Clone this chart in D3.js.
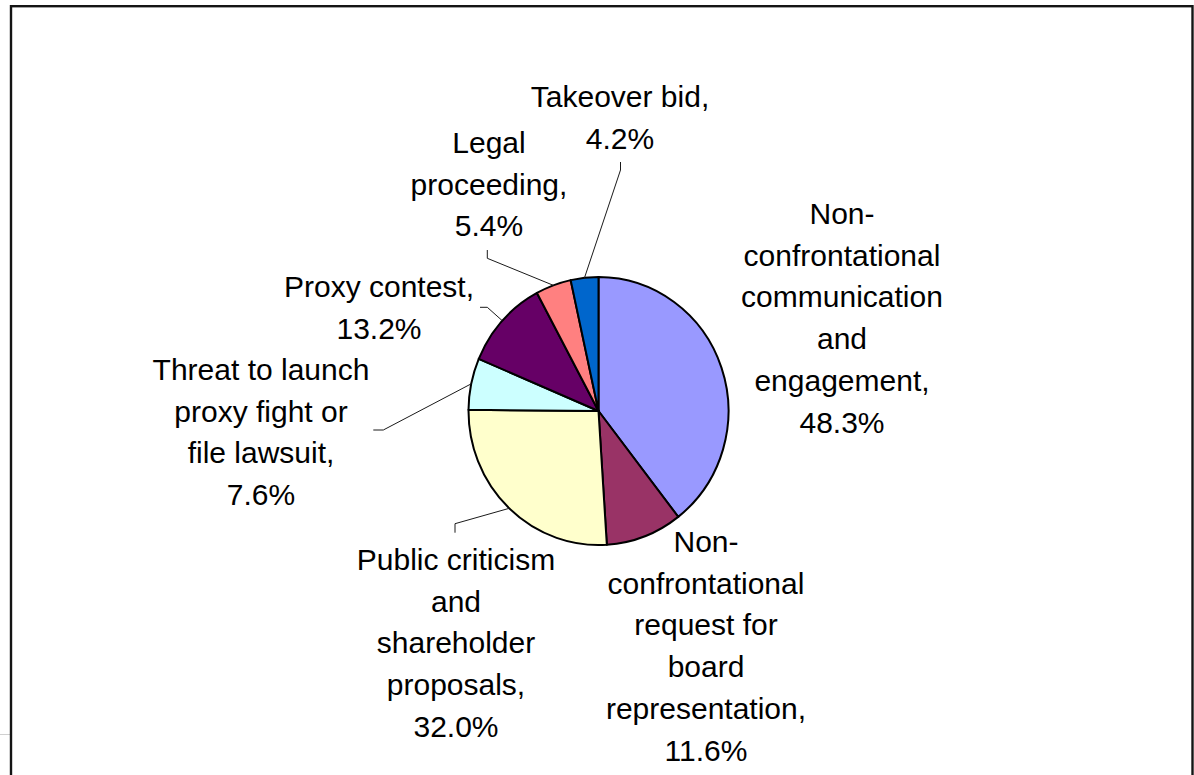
<!DOCTYPE html>
<html>
<head>
<meta charset="utf-8">
<script src="https://cdn.jsdelivr.net/npm/d3@7"></script>
<style>
  html, body { margin: 0; padding: 0; background: #ffffff; }
  svg { display: block; }
  text { font-family: "Liberation Sans", Arial, Helvetica, sans-serif; }
</style>
</head>
<body>
<svg id="chart" width="1194" height="775"></svg>
<script>
// Shareholder engagement methods, in clockwise order from 12 o'clock
const categories = [
  "Non-confrontational communication and engagement",
  "Non-confrontational request for board representation",
  "Public criticism and shareholder proposals",
  "Threat to launch proxy fight or file lawsuit",
  "Proxy contest",
  "Legal proceeding",
  "Takeover bid"
];
const values = [48.3, 11.6, 32.0, 7.6, 13.2, 5.4, 4.2];
// How each category name wraps inside its label
const labelLines = [
  ["Non-", "confrontational", "communication", "and", "engagement,"],
  ["Non-", "confrontational", "request for", "board", "representation,"],
  ["Public criticism", "and", "shareholder", "proposals,"],
  ["Threat to launch", "proxy fight or", "file lawsuit,"],
  ["Proxy contest,"],
  ["Legal", "proceeding,"],
  ["Takeover bid,"]
];
const colors = ["#9999FF", "#993366", "#FFFFCC", "#CCFFFF", "#660066", "#FF8080", "#0066CC"];

// Layout
const W = 1194, H = 775;
const cx = 598.5, cy = 411;
const radius = 134, xSquash = 0.97;
const fontSize = 30, lineHeight = 41.7;

// Label placement: text centre x, first baseline y, and leader tail/elbow (null = no leader)
const labelPlacement = [
  { x: 842, y: 224, tail: null, elbow: null },
  { x: 706, y: 552, tail: null, elbow: null },
  { x: 456, y: 570, tail: [455, 532.7], elbow: [455, 523.7] },
  { x: 261, y: 380, tail: [373.3, 430], elbow: [383.3, 430] },
  { x: 379, y: 297, tail: [480, 307.3], elbow: [487.3, 307.3] },
  { x: 489, y: 153, tail: [487.3, 250], elbow: [487.3, 258.3] },
  { x: 620, y: 107, tail: [620.5, 162], elbow: [620.5, 170] }
];

const svg = d3.select("#chart");

// Chart frame
svg.append("line")
  .attr("x1", 0).attr("x2", 10).attr("y1", 734.5).attr("y2", 734.5)
  .attr("stroke", "#d0d0d0").attr("stroke-width", 1);
svg.append("rect")
  .attr("x", 11).attr("y", 6.2)
  .attr("width", 1181.5).attr("height", 820)
  .attr("fill", "#ffffff")
  .attr("stroke", "#141414").attr("stroke-width", 2.4);

const data = categories.map((c, i) => ({ name: c, value: values[i], lines: labelLines[i], color: colors[i], place: labelPlacement[i] }));

const pie = d3.pie().sort(null).value(d => d.value);
const arcs = pie(data);
const arc = d3.arc().innerRadius(0).outerRadius(radius);

// Slices
const g = svg.append("g")
  .attr("transform", `translate(${cx},${cy}) scale(${xSquash},1)`);
g.selectAll("path.slice")
  .data(arcs)
  .join("path")
  .attr("class", "slice")
  .attr("d", arc)
  .attr("fill", d => d.data.color)
  .attr("stroke", "#000000")
  .attr("stroke-width", 2)
  .attr("stroke-linejoin", "round")
  .attr("vector-effect", "non-scaling-stroke");

// Point on the rim at a slice's middle angle (page coordinates)
function rimPoint(d) {
  const a = (d.startAngle + d.endAngle) / 2;
  return [cx + radius * xSquash * Math.sin(a), cy - radius * Math.cos(a)];
}

// Leader lines
const line = d3.line();
svg.append("g").selectAll("path.leader")
  .data(arcs.filter(d => d.data.place.tail))
  .join("path")
  .attr("class", "leader")
  .attr("d", d => line([d.data.place.tail, d.data.place.elbow, rimPoint(d)]))
  .attr("fill", "none")
  .attr("stroke", "#1a1a1a")
  .attr("stroke-width", 1);

// Labels: name lines followed by the percentage
const labels = svg.append("g").selectAll("text.label")
  .data(arcs)
  .join("text")
  .attr("class", "label")
  .attr("text-anchor", "middle")
  .attr("font-size", fontSize)
  .attr("fill", "#000000");

labels.each(function(d) {
  const t = d3.select(this);
  const lines = d.data.lines.concat([d.data.value.toFixed(1) + "%"]);
  lines.forEach((s, i) => {
    t.append("tspan")
      .attr("x", d.data.place.x)
      .attr("y", d.data.place.y + i * lineHeight)
      .text(s);
  });
});
</script>
</body>
</html>
